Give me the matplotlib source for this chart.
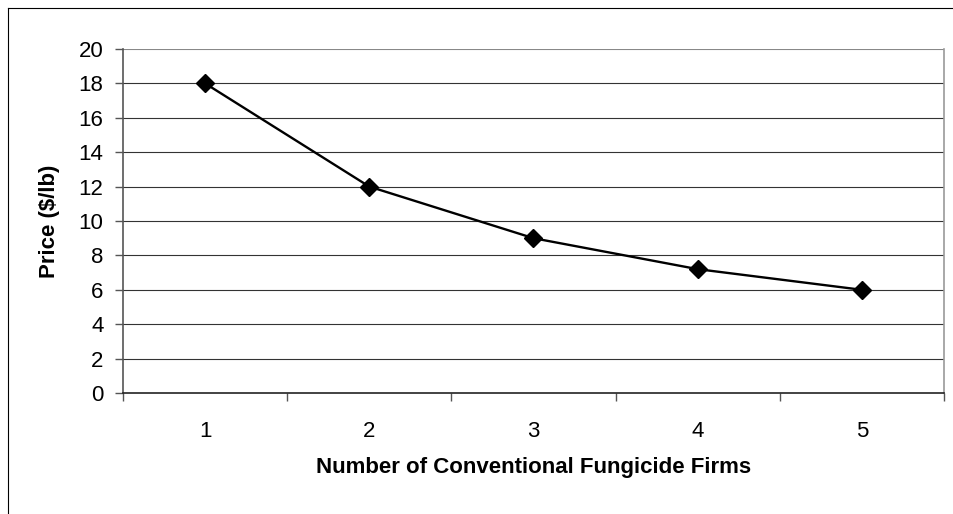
import matplotlib.pyplot as plt
from matplotlib.lines import Line2D

# data
firms = [1, 2, 3, 4, 5]
price = [18, 12, 9, 7.2, 6]
y_ticks = [0, 2, 4, 6, 8, 10, 12, 14, 16, 18, 20]

plt.rcParams['font.family'] = ['Liberation Sans', 'DejaVu Sans']

fig = plt.figure(figsize=(9.54, 5.14), dpi=100)
ax = fig.add_axes([123 / 954, 1 - 393 / 514, (944 - 123) / 954, (393 - 49) / 514])

# outer chart border (only left and top visible)
fig.add_artist(Line2D([8.5 / 954, 8.5 / 954], [0, 1 - 7.5 / 514], transform=fig.transFigure,
                      color='black', lw=0.8))
fig.add_artist(Line2D([8.5 / 954, 1], [1 - 7.5 / 514, 1 - 7.5 / 514], transform=fig.transFigure,
                      color='black', lw=0.8))

# horizontal grid lines
for t in y_ticks[1:]:
    ax.axhline(t, color='#333333' if t < 20 else '#888888', lw=0.8, zorder=1)

ax.plot(firms, price, color='black', lw=1.7, marker='D', markersize=9, zorder=3)

ax.set_xlim(0.5, 5.5)
ax.set_ylim(0, 20)
ax.set_yticks(y_ticks)
ax.set_yticklabels([str(t) for t in y_ticks], fontsize=16)

# category boundaries as ticks, labels at centres
ax.set_xticks([0.5, 1.5, 2.5, 3.5, 4.5, 5.5])
ax.set_xticklabels([])
ax.set_xticks(firms, minor=True)
ax.set_xticklabels([str(f) for f in firms], minor=True, fontsize=16)
ax.tick_params(axis='x', which='major', direction='out', length=6, width=1, color='#555555')
ax.tick_params(axis='x', which='minor', length=0, pad=20)
ax.tick_params(axis='y', direction='out', length=6, width=1, color='#555555', pad=8)

ax.spines['top'].set_visible(False)
ax.spines['right'].set_color('#999999')
ax.spines['right'].set_linewidth(1.2)
ax.spines['left'].set_color('#555555')
ax.spines['left'].set_linewidth(1.2)
ax.spines['bottom'].set_color('#222222')
ax.spines['bottom'].set_linewidth(1.2)

ax.set_ylabel(r'Price (\$/lb)', fontsize=16, fontweight='bold')
ax.yaxis.set_label_coords(-0.089, 0.5)
ax.yaxis.label.set_va('center')
ax.set_xlabel('Number of Conventional Fungicide Firms', fontsize=16, fontweight='bold')
ax.xaxis.set_label_coords(0.5, -0.2326)
ax.xaxis.label.set_va('baseline')

plt.savefig('out.png', dpi=100)
